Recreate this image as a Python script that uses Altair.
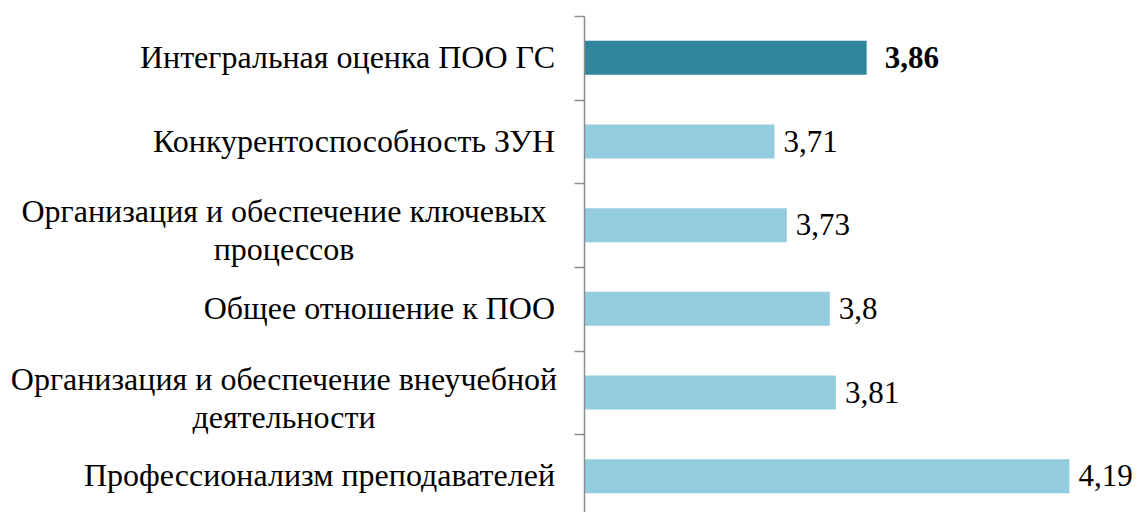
import altair as alt
import pandas as pd

# ---- data ----
category_lines = [
    ["Интегральная оценка ПОО ГС"],
    ["Конкурентоспособность ЗУН"],
    ["Организация и обеспечение ключевых", "процессов"],
    ["Общее отношение к ПОО"],
    ["Организация и обеспечение внеучебной", "деятельности"],
    ["Профессионализм преподавателей"],
]
values = [3.86, 3.71, 3.73, 3.8, 3.81, 4.19]
highlight = [True, False, False, False, False, False]

keys = ["|".join(l) for l in category_lines]
multi = [len(l) > 1 for l in category_lines]

X_MIN, X_MAX = 3.4, 4.3

df = pd.DataFrame({"cat": keys, "value": values, "hl": highlight, "multi": multi})

FONT = "Liberation Serif"
FS_CAT = 32
FS_VAL = 31

y_enc = alt.Y(
    "cat:N",
    sort=None,
    scale=alt.Scale(range=[0, 502], paddingInner=0, paddingOuter=0),
    axis=alt.Axis(
        title=None,
        labels=False,
        tickSize=10,
        tickBand="extent",
        tickColor="#8c8c8c",
        domainColor="#8c8c8c",
        domainWidth=1.5,
        tickWidth=1.5,
        grid=False,
        zindex=1,
    ),
)

x_enc = alt.X(
    "value:Q",
    scale=alt.Scale(domain=[X_MIN, X_MAX], zero=False, nice=False),
    axis=None,
)

base = alt.Chart(df).transform_calculate(
    lbl="replace(toString(datum.value), '.', ',')"
)

bars = base.mark_bar(size=34).encode(
    y=y_enc,
    x=x_enc,
    x2=alt.datum(X_MIN),
    color=alt.Color(
        "hl:N",
        scale=alt.Scale(domain=[True, False], range=["#31859C", "#93CDDD"]),
        legend=None,
    ),
)

# value labels
text_normal = base.transform_filter("!datum.hl").mark_text(
    align="left", baseline="middle", dx=9, dy=1, font=FONT, fontSize=FS_VAL, color="#000000"
).encode(y=y_enc, x=x_enc, text="lbl:N")

text_bold = base.transform_filter("datum.hl").mark_text(
    align="left", baseline="middle", dx=18, dy=1, font=FONT, fontSize=FS_VAL,
    fontWeight="bold", color="#000000"
).encode(y=y_enc, x=x_enc, text="lbl:N")

# category labels (left of the axis)
cat_single = base.transform_filter("!datum.multi").mark_text(
    align="right", baseline="middle", dx=-29, font=FONT, fontSize=FS_CAT, color="#000000"
).encode(y=y_enc, x=alt.datum(X_MIN), text="cat:N")

cat_multi = base.transform_filter("datum.multi").mark_text(
    align="center", baseline="middle", dx=-300, dy=-13, lineBreak="|", lineHeight=38,
    font=FONT, fontSize=FS_CAT, color="#000000"
).encode(y=y_enc, x=alt.datum(X_MIN), text="cat:N")

chart = (
    alt.layer(bars, text_normal, text_bold, cat_single, cat_multi)
    .properties(
        width=553,
        height=496,
        autosize=alt.AutoSizeParams(type="none"),
        padding={"left": 584, "top": 16, "right": 9, "bottom": 0},
        view=alt.ViewBackground(stroke="transparent", strokeWidth=0),
    )
    .configure_view(stroke="transparent", strokeWidth=0)
    .configure(background="#ffffff")
)

chart.save("out.html", embed_options={"renderer": "svg", "actions": False})
